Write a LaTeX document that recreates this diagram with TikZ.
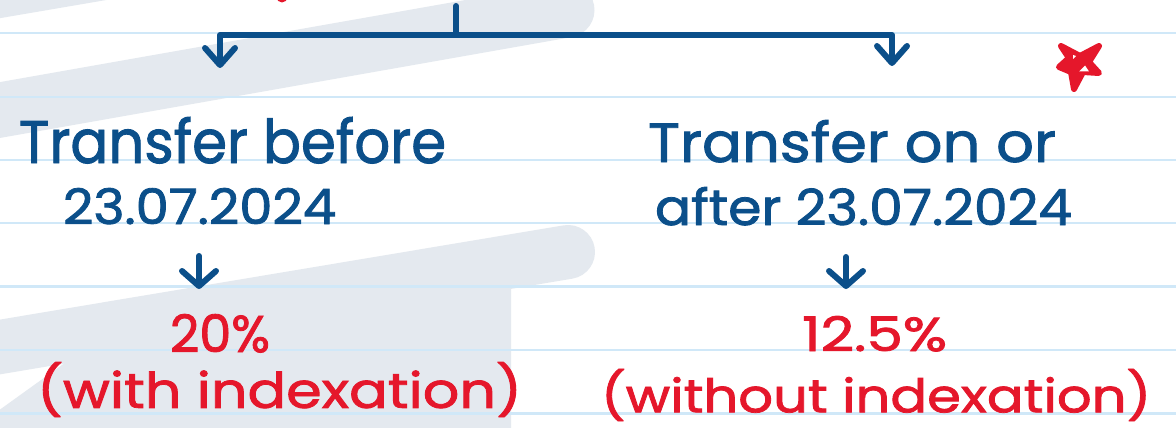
\documentclass[tikz,border=0pt]{standalone}
\usepackage{fontspec}
\setmainfont{Poppins}[FakeBold=1.6]
\usepackage{graphicx}
\usetikzlibrary{arrows.meta}
\definecolor{ink}{HTML}{0B4F8A}
\definecolor{redink}{HTML}{E5172B}
\definecolor{ruleblue}{HTML}{D0E8F8}
\definecolor{hl}{HTML}{E4E9EF}
\tikzset{
  handtext/.style={inner sep=0pt, outer sep=0pt, anchor=base west},
  bluetext/.style={handtext, text=ink},
  redtext/.style={inner sep=0pt, outer sep=0pt, anchor=north west, text=redink},
  pen/.style={draw=ink, line width=6pt, line cap=round, line join=round},
  bigtip/.style={-{Straight Barb[length=17pt, width=30pt, round]}},
  smalltip/.style={-{Straight Barb[length=15pt, width=34pt, round]}},
  ruled/.style={draw=ruleblue, line width=2.2pt},
  band/.style={draw=hl, line cap=round},
}
\begin{document}
\begin{tikzpicture}[x=1pt, y=-1pt]
\path[use as bounding box] (0,0) rectangle (1176,428);
\begin{scope}
\clip (0,0) rectangle (1176,428);
\fill[white] (0,0) rectangle (1176,428);
% background highlight strokes
\fill[hl] (-2,-2) -- (118,-2) -- (-2,18.5) -- cycle;
\draw[band, line width=55pt] (-60,120.6) -- (567,10);
\fill[hl] (-2,411) -- (80,352) -- (511,285) -- (511,432) -- (-2,432) -- cycle;
\draw[band, line width=54pt] (-60,357) -- (568,252);
% ruled lines
\foreach \yy in {33,97,160,223,286.5,350,413.5}
  \draw[ruled] (-2,\yy) -- (1178,\yy);
% red mark at top edge
\fill[redink] (282,-3) circle (5.5);
\end{scope}

% star
\filldraw[redink, line width=6pt, line join=round, line cap=round]
  (1061,46) -- (1080,56) -- (1099,46) -- (1089,62) -- (1099,73) -- (1083,72)
  -- (1074,89) -- (1071,72) -- (1059,67) -- (1069,58) -- cycle;
\fill[white] (1079,71.5) -- (1085,65.5) -- (1089,71.5) -- cycle;
\fill[white] (1073,55) -- (1076,56) -- (1073,59) -- cycle;

% texts
\node[bluetext] (tb) at (19,163) {\resizebox{427pt}{46pt}{Transfer before}};
\node[bluetext] (db) at (63,224) {\resizebox{273pt}{36pt}{23.07.2024}};
\node[bluetext] (ta) at (648,162) {\resizebox{408pt}{42pt}{Transfer on or}};
\node[bluetext] (da) at (655,225) {\resizebox{417pt}{38pt}{after 23.07.2024}};
\node[redtext] (rb) at (170,314) {\resizebox{100pt}{38pt}{20\%}};
\node[redtext] (ib) at (37,362) {\resizebox*{485pt}{55pt}{(with indexation)}};
\node[redtext] (ra) at (802,316) {\resizebox{145pt}{35pt}{12.5\%}};
\node[redtext] (ia) at (601,369) {\resizebox*{550pt}{52pt}{(without indexation)}};

% connectors
\coordinate (tickTop) at (456,6);
\coordinate (bar) at (456,35);
\coordinate (tipL) at (220,68);
\coordinate (tipR) at (892,66);
\draw[pen] (tickTop) -- (bar);
\draw[pen, bigtip] (bar) -| (tipL);
\draw[pen, bigtip] (bar) -| (tipR);
\coordinate (sL) at (199,256);
\coordinate (eL) at (199,289);
\coordinate (sR) at (846,257);
\coordinate (eR) at (846,289);
\draw[pen, smalltip] (sL) -- (eL);
\draw[pen, smalltip] (sR) -- (eR);
\end{tikzpicture}
\end{document}
